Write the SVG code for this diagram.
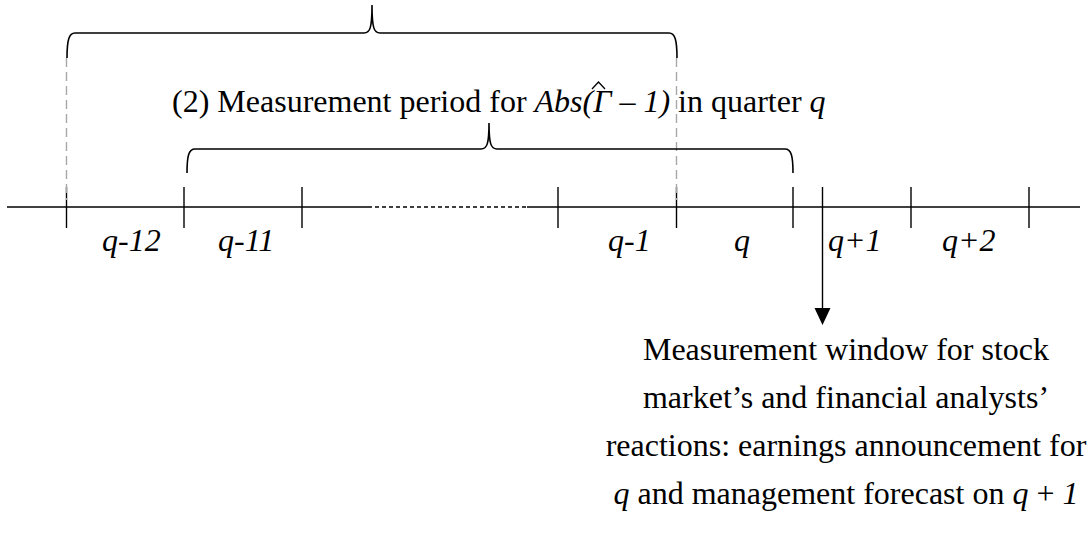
<svg xmlns="http://www.w3.org/2000/svg" width="1091" height="533" viewBox="0 0 1091 533">
<style>
.ln{stroke:#000;stroke-width:1.4;fill:none}
.br{stroke:#000;stroke-width:1.6;fill:none}
.gd{stroke:#a8a8a8;stroke-width:1.4;stroke-dasharray:9 5;fill:none}
text{font-family:'Liberation Serif','Times New Roman',Tinos,serif;font-size:32px;fill:#000}
.i{font-style:italic}
</style>
<rect width="1091" height="533" fill="#fff"/>
<g id="connectors">
<g id="axis">
<line class="ln" x1="7" y1="207" x2="368" y2="207"/>
<line class="ln" x1="368" y1="207" x2="527" y2="207" stroke-dasharray="4 3"/>
<line class="ln" x1="527" y1="207" x2="1080" y2="207"/>
<line class="ln" x1="66.5" y1="187" x2="66.5" y2="228"/>
<line class="ln" x1="184" y1="187" x2="184" y2="228"/>
<line class="ln" x1="302" y1="187" x2="302" y2="228"/>
<line class="ln" x1="558" y1="187" x2="558" y2="228"/>
<line class="ln" x1="676.5" y1="187" x2="676.5" y2="228"/>
<line class="ln" x1="793" y1="187" x2="793" y2="228"/>
<line class="ln" x1="911" y1="187" x2="911" y2="228"/>
<line class="ln" x1="1029" y1="187" x2="1029" y2="228"/>
</g>
<line class="gd" x1="66.5" y1="58" x2="66.5" y2="200"/>
<line class="gd" x1="676.5" y1="58" x2="676.5" y2="200"/>
<line class="ln" x1="822.5" y1="187" x2="822.5" y2="309"/>
<polygon points="814.5,308 830.5,308 822.5,325" fill="#000"/>
</g>
<g id="brace1">
<path class="br" d="M67,58 C67,40 69,33 75,33 L364,33 C370,33 372,28 372,5 C372,28 374,33 380,33 L669,33 C675,33 677,40 677,58"/>
</g>
<g id="brace2">
<path class="br" d="M187,173 C187,155 189,149 195,149 L481,149 C487,149 489,144 489,123 C489,144 491,149 497,149 L785,149 C791,149 793,155 793,173"/>
<text x="172" y="112">(2) Measurement period for <tspan class="i">Abs(Γ </tspan>– <tspan class="i">1)</tspan> in quarter <tspan class="i">q</tspan></text>
<polyline points="592,89 598.5,82 605,89" fill="none" stroke="#000" stroke-width="1.3"/>
</g>
<g id="labels">
<text class="i" x="102" y="251">q-12</text>
<text class="i" x="218" y="251">q-11</text>
<text class="i" x="608" y="251">q-1</text>
<text class="i" x="734" y="251">q</text>
<text class="i" x="828" y="251">q+1</text>
<text class="i" x="942" y="251">q+2</text>
</g>
<g id="window" text-anchor="middle">
<text x="846" y="360">Measurement window for stock</text>
<text x="846" y="408">market’s and financial analysts’</text>
<text x="846" y="456">reactions: earnings announcement for</text>
<text x="846" y="504"><tspan class="i">q</tspan> and management forecast on <tspan class="i">q</tspan> + <tspan class="i">1</tspan></text>
</g>
</svg>
